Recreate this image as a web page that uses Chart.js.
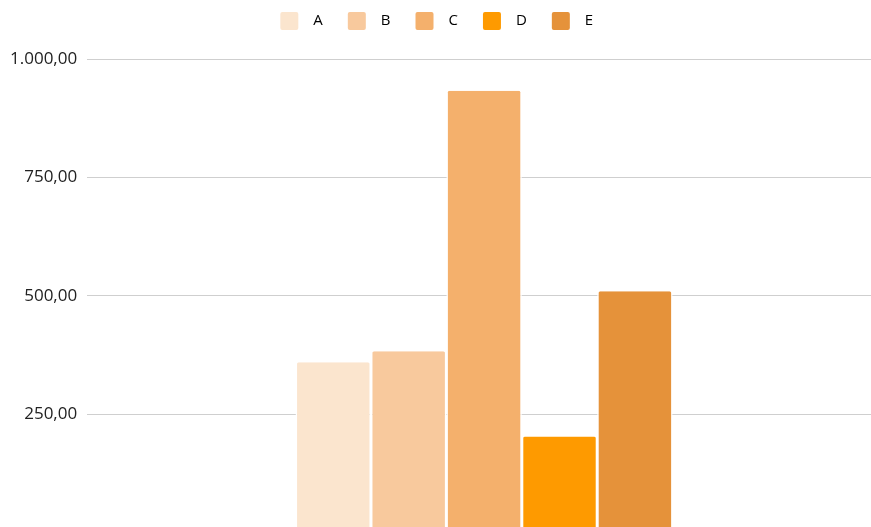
<!DOCTYPE html>
<html>
<head>
<meta charset="utf-8">
<script src="https://cdn.jsdelivr.net/npm/chart.js@4.4.1/dist/chart.umd.min.js"></script>
<style>
  html, body { margin: 0; padding: 0; background: #fff; overflow: hidden; }
  #wrap { position: relative; width: 881px; height: 553px; }
</style>
</head>
<body>
<div id="wrap"><canvas id="chart"></canvas></div>
<script>
const categories = [''];
const seriesNames = ['A', 'B', 'C', 'D', 'E'];
const seriesValues = [360, 383, 933, 203, 510];
const seriesColors = ['#fbe5ce', '#f8c99d', '#f4b06c', '#fe9a00', '#e5923a'];
const yTicks = [0, 250, 500, 750, 1000];

const fmt = new Intl.NumberFormat('de-DE', { minimumFractionDigits: 2, maximumFractionDigits: 2 });

const datasets = seriesNames.map((name, i) => ({
    label: name,
    data: [seriesValues[i]],
    backgroundColor: seriesColors[i],
    borderColor: '#ffffff',
    borderWidth: { left: 1.5, right: 1.5, top: 0, bottom: 0 },
    borderRadius: { topLeft: 3, topRight: 3 },
    borderSkipped: 'bottom',
    categoryPercentage: 0.475,
    barPercentage: 1,
}));

// legend height fixed so the plot starts where the reference does
const legendHeight = {
    id: 'legendHeight',
    beforeInit(chart) {
        const fit = chart.legend.fit;
        chart.legend.fit = function () {
            fit.call(this);
            this.height = 57;
        };
    },
};

new Chart(document.getElementById('chart'), {
    type: 'bar',
    data: { labels: categories, datasets: datasets },
    plugins: [legendHeight],
    options: {
        responsive: true,
        maintainAspectRatio: false,
        animation: false,
        layout: { padding: { top: 2, bottom: 0, left: 0, right: 0 } },
        plugins: {
            tooltip: { enabled: false },
            legend: {
                position: 'top',
                labels: {
                    boxWidth: 18,
                    boxHeight: 18,
                    useBorderRadius: true,
                    borderRadius: 2,
                    padding: 10,
                    color: '#222',
                    font: { family: 'Open Sans', size: 15 },
                    generateLabels: (chart) => chart.data.datasets.map((ds, i, all) => ({
                        text: '\u2002' + ds.label + (i === all.length - 1 ? '\u2002' : '\u2002\u2002'),
                        fillStyle: ds.backgroundColor,
                        strokeStyle: ds.backgroundColor,
                        lineWidth: 0,
                        borderRadius: 2,
                        datasetIndex: i,
                    })),
                },
            },
        },
        scales: {
            x: { display: false },
            y: {
                min: yTicks[0],
                max: yTicks[yTicks.length - 1],
                afterBuildTicks: (axis) => { axis.ticks = yTicks.map(v => ({ value: v })); },
                border: { display: false },
                grid: { color: '#cfcfcf', lineWidth: 1, drawTicks: false },
                ticks: {
                    padding: 10,
                    color: '#222',
                    font: { family: 'Open Sans', size: 17 },
                    callback: (v) => v === 0 ? '' : fmt.format(v),
                },
            },
        },
    },
});
</script>
</body>
</html>
